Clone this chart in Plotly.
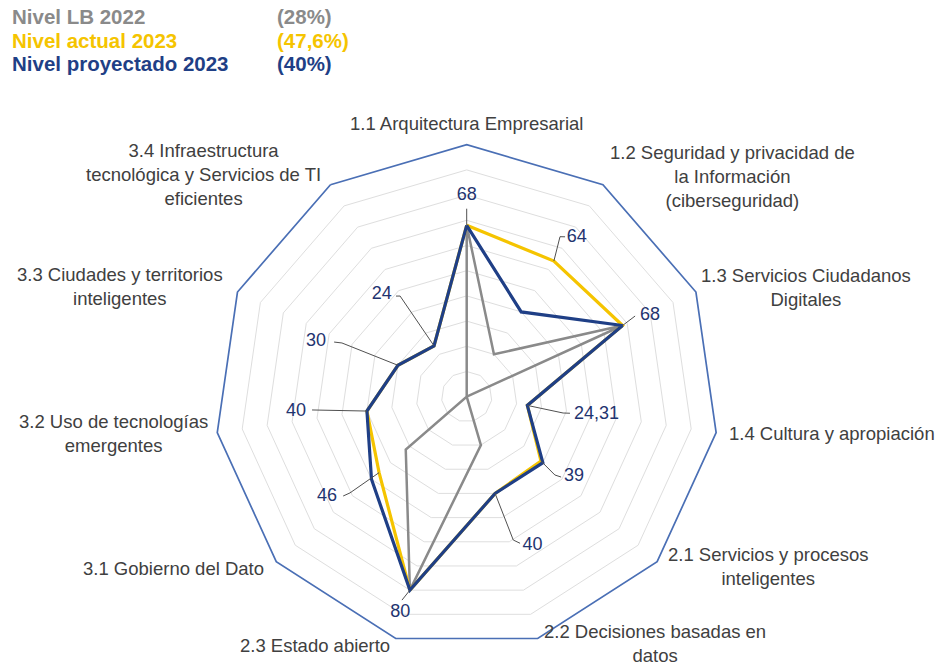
import math
import plotly.graph_objects as go

# ---------------- data ----------------
categories = [
    "1.1 Arquitectura Empresarial",
    "1.2 Seguridad y privacidad de<br>la Información<br>(ciberseguridad)",
    "1.3 Servicios Ciudadanos<br>Digitales",
    "1.4 Cultura y apropiación",
    "2.1 Servicios y procesos<br>inteligentes",
    "2.2 Decisiones basadas en<br>datos",
    "2.3 Estado abierto",
    "3.1 Gobierno del Dato",
    "3.2 Uso de tecnologías<br>emergentes",
    "3.3 Ciudades y territorios<br>inteligentes",
    "3.4 Infraestructura<br>tecnológica y Servicios de TI<br>eficientes",
]
nivel_lb_2022 = [68, 20, 68, 0, 0, 20, 80, 32, 0, 0, 0]
nivel_actual_2023 = [68, 64, 68, 24.31, 39, 40, 80, 46, 40, 30, 24]
nivel_proyectado_2023 = [68, 40, 68, 24.31, 40, 40, 80, 50, 40, 30, 24]

series_names = ["Nivel LB 2022", "Nivel actual 2023", "Nivel proyectado 2023"]
series_pct = ["(28%)", "(47,6%)", "(40%)"]

# ---------------- style / layout constants ----------------
GREY = "#8a8a8a"
YELLOW = "#F5C400"
NAVY = "#1F3F86"
LABEL_NAVY = "#1F3470"
OUTER = "#4A6FB5"
TEXT = "#404040"
FONT = "Liberation Sans, Arial"

n = len(categories)
theta_num = [k * 360.0 / n for k in range(n)]

# polar positions (r, theta) of the category label block centres
cat_label_pos = [
    (108.6, 0.0), (137.1, 50.4), (141.5, 72.1), (145.6, 95.8),
    (137.5, 119.4), (123.3, 142.7), (115.9, 211.4), (134.7, 239.6),
    (141.1, 264.1), (144.3, 287.6), (136.7, 310.1),
]
# polar positions of the value labels and the bends of their leader lines
val_label_pos = [
    (80.0, 0.0), (76.9, 34.6), (79.5, 66.2), (52.0, 98.0), (53.2, 126.8),
    (64.4, 156.1), (89.8, 197.1), (68.2, 234.3), (68.0, 265.1),
    (63.6, 290.0), (52.6, 320.1),
]
leader_bends = [
    [(74.6, 0.0)],
    [(73.5, 30.25), (74.5, 31.6)],
    [(74.1, 64.4)],
    [(38.8, 99.6), (41.5, 99.1)],
    [(46.8, 131.6), (49.2, 130.4)],
    [(59.8, 162.0), (61.9, 160.0)],
    [(84.7, 197.65)],
    [(60.0, 230.5), (62.9, 231.2)],
    [(61.6, 265.1)],
    [(53.9, 293.3), (56.9, 292.4)],
    [(47.9, 326.5), (48.8, 324.9)],
]

W, H = 942, 667
cx, cy, R = 466.7, 396.7, 252.0
RMAX = 100.0


def fmt(v):
    if float(v).is_integer():
        return str(int(v))
    return str(v).replace(".", ",")


def closed(vals):
    return list(vals) + [vals[0]]


def polar_to_paper(r, t):
    s = R / RMAX
    x = cx + r * s * math.sin(math.radians(t))
    y = cy - r * s * math.cos(math.radians(t))
    return x / W, 1 - y / H


fig = go.Figure()

series = [
    (nivel_lb_2022, GREY, 2.5),
    (nivel_actual_2023, YELLOW, 3.2),
    (nivel_proyectado_2023, NAVY, 3.2),
]
for (vals, col, w), name in zip(series, series_names):
    fig.add_trace(go.Scatterpolar(
        r=closed(vals), theta=closed(categories), mode="lines", name=name,
        line=dict(color=col, width=w), hoverinfo="skip", subplot="polar",
    ))

# leader lines (overlay polar with numeric angles)
lr, lt = [], []
for k in range(n):
    lr.append(nivel_actual_2023[k])
    lt.append(theta_num[k])
    for (rr, tt) in leader_bends[k]:
        lr.append(rr)
        lt.append(tt)
    lr.append(None)
    lt.append(None)
fig.add_trace(go.Scatterpolar(
    r=lr, theta=lt, mode="lines", connectgaps=False,
    line=dict(color="#505050", width=1), hoverinfo="skip",
    subplot="polar2",
))

# value labels
fig.add_trace(go.Scatterpolar(
    r=[p[0] for p in val_label_pos], theta=[p[1] for p in val_label_pos],
    mode="text", text=[fmt(v) for v in nivel_actual_2023],
    textposition="middle center",
    textfont=dict(family=FONT, size=18, color=LABEL_NAVY),
    hoverinfo="skip", cliponaxis=False, subplot="polar2",
))

dom = dict(x=[(cx - R) / W, (cx + R) / W],
           y=[(H - cy - R) / H, (H - cy + R) / H])
fig.update_layout(
    width=W, height=H,
    margin=dict(l=0, r=0, t=0, b=0, pad=0),
    paper_bgcolor="white", plot_bgcolor="white",
    showlegend=False, hovermode=False,
    polar=dict(
        domain=dom, gridshape="linear", bgcolor="white",
        radialaxis=dict(range=[0, RMAX], dtick=10, showticklabels=False,
                        ticks="", showline=False, gridcolor="#dedede",
                        gridwidth=1),
        angularaxis=dict(type="category", categoryarray=categories,
                         rotation=90, direction="clockwise",
                         showticklabels=False, ticks="", showgrid=False,
                         showline=True, linecolor=OUTER, linewidth=1.7),
    ),
    polar2=dict(
        domain=dom, bgcolor="rgba(0,0,0,0)",
        radialaxis=dict(range=[0, RMAX], showticklabels=False, ticks="",
                        showline=False, showgrid=False),
        angularaxis=dict(rotation=90, direction="clockwise",
                         showticklabels=False, ticks="", showgrid=False,
                         showline=False),
    ),
)

# category labels
for cat, (rr, tt) in zip(categories, cat_label_pos):
    px, py = polar_to_paper(rr, tt)
    fig.add_annotation(text=cat, x=px, y=py, xref="paper", yref="paper",
                       xanchor="center", yanchor="middle", align="center",
                       showarrow=False,
                       font=dict(family=FONT, size=18.5, color=TEXT))

# legend text block (top-left)
leg_colors = [GREY, YELLOW, NAVY]
leg_y = [16.7, 40.3, 64.0]
for name, pct, col, yy in zip(series_names, series_pct, leg_colors, leg_y):
    for txt, xx in (("<b>%s</b>" % name, 10), ("<b>%s</b>" % pct, 275)):
        fig.add_annotation(text=txt, x=xx / W, y=1 - yy / H,
                           xref="paper", yref="paper", xanchor="left",
                           yanchor="middle", showarrow=False,
                           font=dict(family=FONT, size=20.5, color=col))

fig.write_html(
    "out.html",
    config={"displayModeBar": False},
    post_script="document.body.style.margin='0';document.body.style.overflow='hidden';",
)
